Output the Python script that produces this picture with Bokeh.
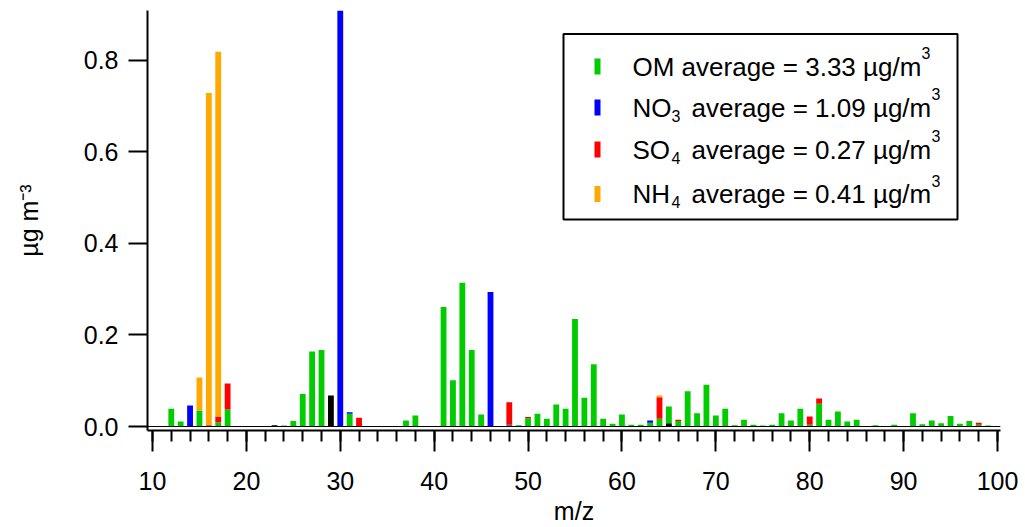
from bokeh.plotting import figure
from bokeh.models import (Range1d, Span, Label, BoxAnnotation, FixedTicker,
                          PrintfTickFormatter, ColumnDataSource)
from bokeh.embed import file_html
from bokeh.resources import INLINE

# ---------------- data ----------------
mz = list(range(12, 101))

om = [0.039, 0.011, 0.0, 0.035, 0.0, 0.009, 0.037, 0.0, 0.0, 0.0,
      0.0, 0.0, 0.002, 0.012, 0.071, 0.164, 0.167, 0.0, 0.0, 0.028,
      0.0, 0.0, 0.001, 0.0, 0.0, 0.013, 0.024, 0.0, 0.0, 0.261,
      0.101, 0.314, 0.167, 0.026, 0.0, 0.001, 0.002, 0.003, 0.018, 0.028,
      0.017, 0.048, 0.039, 0.235, 0.063, 0.136, 0.017, 0.006, 0.026, 0.004,
      0.004, 0.008, 0.017, 0.037, 0.012, 0.077, 0.029, 0.091, 0.024, 0.039,
      0.003, 0.015, 0.004, 0.002, 0.004, 0.029, 0.013, 0.039, 0.004, 0.050,
      0.015, 0.033, 0.011, 0.015, 0.001, 0.003, 0.001, 0.004, 0.001, 0.029,
      0.005, 0.013, 0.007, 0.023, 0.006, 0.012, 0.004, 0.002, 0.001]

no3_mz = [14, 30, 31, 46, 48, 63]
no3_val = [0.046, 1.0, 0.003, 0.294, 0.002, 0.005]

so4_mz = [16, 17, 18, 32, 48, 50, 64, 66, 80, 81, 98]
so4_val = [0.003, 0.013, 0.057, 0.019, 0.049, 0.003, 0.047, 0.003, 0.018, 0.011, 0.004]

nh4_mz = [15, 16, 17, 64]
nh4_val = [0.072, 0.726, 0.797, 0.004]

other_mz = [23, 29, 65]
other_val = [0.003, 0.068, 0.007]

x_ticks = [10, 20, 30, 40, 50, 60, 70, 80, 90, 100]
y_ticks = [0.0, 0.2, 0.4, 0.6, 0.8]

legend_names = ["OM", "NO", "SO", "NH"]
legend_subs = ["", "3", "4", "4"]
legend_avgs = ["3.33", "1.09", "0.27", "0.41"]


def full(ms, vs):
    arr = [0.0] * len(mz)
    for m, v in zip(ms, vs):
        arr[m - mz[0]] = v
    return arr


# stacking order, bottom to top: other, OM, NO3, SO4, NH4
series = [full(other_mz, other_val), om, full(no3_mz, no3_val),
          full(so4_mz, so4_val), full(nh4_mz, nh4_val)]
colors = ["#000000", "#00CC00", "#0000FF", "#FF0000", "#FFA800"]
FONT = "Liberation Sans"

# ---------------- figure ----------------
p = figure(width=1025, height=527, output_backend="svg", toolbar_location=None,
           x_range=Range1d(9.467, 100.32), y_range=Range1d(-0.0087, 0.909),
           min_border_left=147, min_border_right=25, min_border_top=10,
           min_border_bottom=96)
p.outline_line_color = None
p.grid.visible = False
p.background_fill_color = "white"
p.border_fill_color = "white"

base = [0.0] * len(mz)
for vals, col in zip(series, colors):
    xs, bots, tops = [], [], []
    for k, v in enumerate(vals):
        if v > 0:
            xs.append(mz[k])
            bots.append(base[k])
            tops.append(base[k] + v)
        base[k] += v
    p.vbar(x="x", bottom="bottom", top="top", width=0.62, color=col,
           line_color=None,
           source=ColumnDataSource(dict(x=xs, bottom=bots, top=tops)))

p.add_layout(Span(location=0, dimension="width", line_color="black",
                  line_width=1.2))

# axes
for ax in (p.xaxis[0], p.yaxis[0]):
    ax.axis_line_width = 2
    ax.axis_line_color = "black"
    ax.major_tick_line_width = 2
    ax.minor_tick_line_width = 2
    ax.major_tick_line_color = "black"
    ax.minor_tick_line_color = "black"
    ax.major_tick_in = 0
    ax.minor_tick_in = 0
    ax.major_label_text_font = FONT
    ax.major_label_text_font_size = "25px"
    ax.major_label_text_color = "black"
    ax.axis_label_text_font = FONT
    ax.axis_label_text_font_size = "25px"
    ax.axis_label_text_font_style = "normal"
    ax.axis_label_text_color = "black"

xa = p.xaxis[0]
xa.ticker = FixedTicker(ticks=x_ticks, minor_ticks=list(range(10, 101, 2)))
xa.major_tick_out = 21
xa.minor_tick_out = 11
xa.major_label_standoff = 20
xa.axis_label = "m/z"
xa.axis_label_standoff = 4

ya = p.yaxis[0]
ya.ticker = FixedTicker(ticks=y_ticks, minor_ticks=[])
ya.formatter = PrintfTickFormatter(format="%.1f")
ya.major_tick_out = 19
ya.minor_tick_out = 0
ya.major_label_standoff = 10
ya.axis_label = "µg m⁻³"
ya.axis_label_standoff = 38

# frame-relative screen coordinates for the manual legend
FL, FB = 147, 431  # frame left / bottom in page pixels


def sx(px):
    return px - FL


def sy(py):
    return FB - py


# ---------------- legend (manual, for sub/superscripts) ----------------
p.add_layout(BoxAnnotation(left=sx(563), right=sx(957), top=sy(34.5), bottom=sy(220),
                           left_units="screen", right_units="screen",
                           top_units="screen", bottom_units="screen",
                           fill_color="white", fill_alpha=1.0,
                           line_color="black", line_alpha=1.0, line_width=2,
                           level="annotation"))

BIG, SMALL = 26, 16
dy_big, dy_small = 9, 5.5   # baseline corrections for label placement

row_base = [76, 117, 159, 203.5]
for i in range(4):
    b = row_base[i]
    mid = b - 9
    p.add_layout(BoxAnnotation(left=sx(594), right=sx(600), top=sy(mid - 8), bottom=sy(mid + 8),
                               left_units="screen", right_units="screen",
                               top_units="screen", bottom_units="screen",
                               fill_color=colors[i + 1], fill_alpha=1.0,
                               line_color=None, level="annotation"))
    if legend_subs[i] == "":
        main = f"{legend_names[i]} average = {legend_avgs[i]} µg/m"
        p.add_layout(Label(x=sx(632), y=sy(b - dy_big), x_units="screen", y_units="screen",
                           text=main, text_font=FONT, text_font_size=f"{BIG}px",
                           text_color="black", text_baseline="alphabetic"))
        sup_x = 632 + 289
    else:
        p.add_layout(Label(x=sx(632), y=sy(b - dy_big), x_units="screen", y_units="screen",
                           text=legend_names[i], text_font=FONT, text_font_size=f"{BIG}px",
                           text_color="black", text_baseline="alphabetic"))
        p.add_layout(Label(x=sx(671), y=sy(b + 4.6 - dy_small), x_units="screen", y_units="screen",
                           text=legend_subs[i], text_font=FONT, text_font_size=f"{SMALL}px",
                           text_color="black", text_baseline="alphabetic"))
        rest = f"average = {legend_avgs[i]} µg/m"
        p.add_layout(Label(x=sx(691), y=sy(b - dy_big), x_units="screen", y_units="screen",
                           text=rest, text_font=FONT, text_font_size=f"{BIG}px",
                           text_color="black", text_baseline="alphabetic"))
        sup_x = 691 + 240
    p.add_layout(Label(x=sx(sup_x), y=sy(b - 17 - dy_small), x_units="screen", y_units="screen",
                       text="3", text_font=FONT, text_font_size=f"{SMALL}px",
                       text_color="black", text_baseline="alphabetic"))

open("out.html", "w").write(file_html(p, INLINE))
